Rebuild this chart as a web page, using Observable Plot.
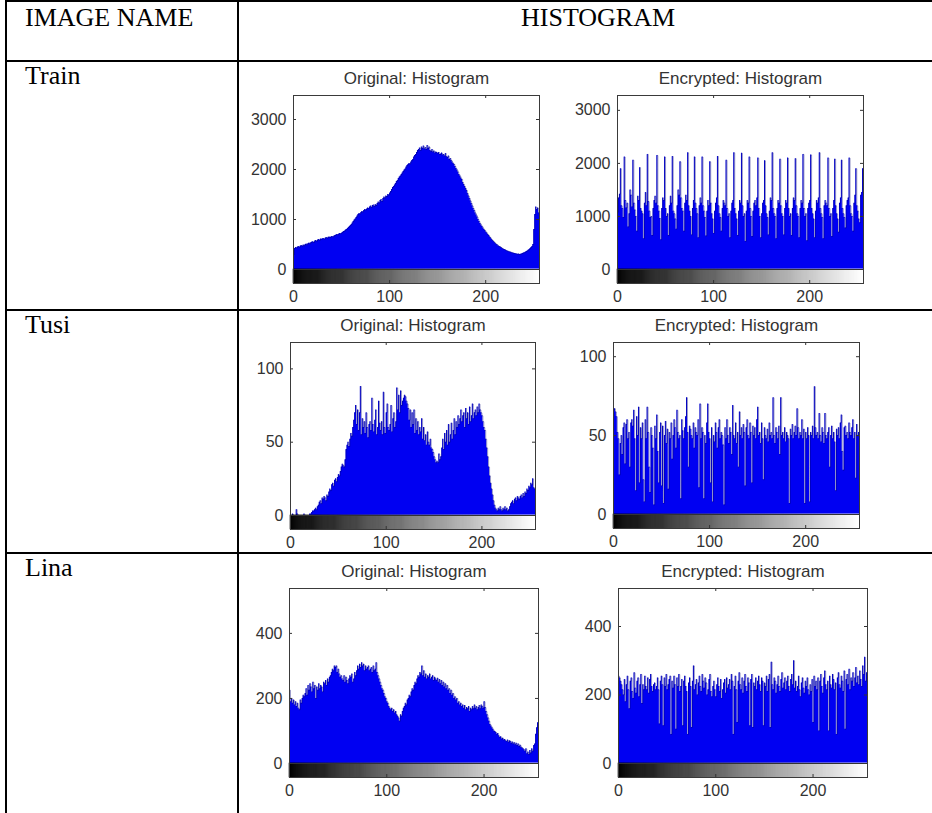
<!DOCTYPE html>
<html><head><meta charset="utf-8">
<script src="https://cdn.jsdelivr.net/npm/d3@7"></script>
<script src="https://cdn.jsdelivr.net/npm/@observablehq/plot@0.6"></script>
<style>
html,body{margin:0;padding:0;background:#fff;}
#page{position:relative;width:932px;height:813px;overflow:hidden;background:#fff;}
.ln{position:absolute;background:#000;}
.cell{position:absolute;font-family:"Liberation Serif","Times New Roman",serif;font-size:26px;color:#000;white-space:nowrap;line-height:1;}
</style></head><body><div id="page"></div>
<script>
// ---------- data ----------
const headers = ["IMAGE NAME", "HISTOGRAM"];
const imageNames = ["Train", "Tusi", "Lina"];
const panelTitles = ["Original: Histogram", "Encrypted: Histogram"];
const grayLevels = d3.range(256);
const xTicks = [0, 100, 200];
const yTicksTrain = [0, 1000, 2000, 3000];
const yTicksTusi = [0, 50, 100];
const yTicksLina = [0, 200, 400];

const trainOriginal = [
300,420,440,430,450,460,445,470,480,465,490,475,500,510,495,520,530,515,540,550,
555,540,570,580,565,590,600,585,610,605,615,620,605,630,640,625,645,650,640,655,
660,650,670,680,690,700,695,710,720,715,730,745,760,770,790,800,820,840,860,880,
900,930,960,990,1010,1040,1070,1100,1120,1110,1140,1160,1150,1180,1200,1190,1210,1230,1220,1250,
1270,1240,1280,1290,1260,1300,1280,1320,1350,1330,1380,1400,1360,1420,1450,1430,1470,1460,1500,1490,
1530,1560,1600,1640,1660,1690,1720,1760,1780,1820,1850,1870,1900,1930,1960,1990,2010,2050,2080,2100,
2120,2110,2150,2180,2200,2250,2280,2300,2340,2380,2400,2430,2380,2450,2420,2470,2410,2440,2400,2480,
2420,2450,2380,2360,2400,2350,2370,2330,2350,2340,2320,2340,2300,2310,2330,2290,2300,2270,2320,2260,
2240,2270,2200,2220,2180,2150,2120,2100,2060,2020,1990,1950,1900,1870,1830,1800,1740,1700,1660,1620,
1580,1520,1470,1420,1370,1320,1270,1220,1180,1130,1090,1050,1000,960,920,890,860,830,800,780,
750,730,700,680,650,630,600,580,560,540,520,500,490,470,460,450,440,420,410,400,
395,380,370,365,355,350,345,335,330,325,320,315,310,305,310,300,305,310,320,330,
335,345,360,370,385,400,420,440,460,500,800,1100,1250,1200,1230,1130];

const trainEncrypted = [
1080,1350,1420,1900,1200,1150,980,2120,1300,1160,1250,800,1050,1500,1400,1180,
2060,1250,1120,1000,720,1380,1300,1920,1150,1100,1050,580,1250,1450,1200,2170,
1280,1100,980,1000,640,1150,1300,1380,1250,2150,1200,1100,960,560,1150,1350,
1300,2120,1150,1000,1050,640,1200,1380,1250,2130,1100,1050,950,760,1200,1500,
1400,2030,1350,1150,1100,720,1250,1400,1300,2200,1200,1100,1000,650,1150,1300,
2120,1250,1150,1050,600,1200,1350,1250,2120,1200,1100,980,630,1100,1300,1200,
2030,1250,1050,950,680,1100,1250,1350,2130,1200,1050,980,720,1150,1300,1250,
1200,2060,1150,1000,1050,600,1100,1250,1300,2200,1150,1050,950,640,1100,1300,
1250,2190,1200,1000,1050,530,1100,1300,1250,2120,1150,1000,620,1100,1250,1300,
1200,1350,2100,1150,1000,600,1050,1250,1300,2050,1200,1050,980,650,1100,1350,
1300,2200,1150,1050,1000,580,1150,1300,1250,2080,1200,1050,1000,650,1150,1300,
1250,2100,1150,1000,1050,640,1150,1350,1300,2090,1200,1050,1000,600,1150,1300,
1250,2170,1150,1000,1050,540,1150,1250,1300,2160,1150,1050,950,600,1100,1300,
1250,1350,2200,1150,1050,980,580,1200,1300,1250,1200,2100,1150,1000,1050,620,
1150,1300,2080,1200,1050,950,700,1250,1350,2060,1150,1050,980,780,1200,1300,
1350,2100,1200,1050,1000,720,1250,1400,1900,1200,1100,950,880,1400,1450,1900];

const tusiOriginal = [
0,0,1,0,0,0,4,1,0,0,0,0,0,0,1,0,
0,0,0,0,1,1,2,3,3,4,5,4,6,7,9,10,
8,12,11,13,12,10,14,13,16,18,17,21,22,20,24,25,
23,26,28,27,30,33,35,34,33,38,45,48,50,47,52,56,
54,60,65,70,75,62,72,58,70,88,55,66,60,64,56,70,
60,53,62,64,58,80,62,57,65,72,55,60,78,63,58,64,
55,84,60,56,70,76,60,58,62,75,57,66,70,60,64,87,
72,82,70,85,75,78,80,82,81,78,76,73,65,72,60,70,
62,72,56,66,58,64,55,60,57,66,52,60,51,55,48,57,
50,48,52,46,45,43,40,38,36,37,36,42,38,40,46,52,
45,56,50,58,48,62,50,55,63,52,58,66,55,64,60,68,
62,66,72,64,68,70,60,73,66,70,62,74,64,68,76,66,
70,72,68,74,70,76,72,70,68,64,60,58,52,46,40,33,
27,22,18,14,10,7,5,4,3,5,4,6,4,3,5,4,
6,4,5,3,4,6,8,9,10,8,11,12,10,13,12,11,
13,14,12,15,13,16,15,18,17,20,19,22,21,25,19,18];

const tusiEncrypted = [
66,67,65,62,52,48,25,45,50,38,55,58,32,57,60,48,
52,30,58,60,56,66,48,15,62,50,68,20,55,48,58,22,
8,60,48,68,52,30,14,55,50,42,6,56,48,63,40,20,
52,58,18,56,7,50,59,45,54,16,52,48,58,35,50,60,
55,42,66,52,48,50,10,60,53,48,55,62,74,52,30,56,
54,50,48,58,42,55,52,50,60,17,70,48,55,52,10,50,
45,58,70,52,48,20,55,8,50,46,58,52,42,55,60,48,
52,50,44,6,55,48,60,50,45,55,52,38,69,50,48,58,
45,52,30,65,50,55,48,57,52,18,55,60,50,48,58,52,
20,56,50,55,48,60,68,50,52,45,58,48,22,55,50,48,
54,46,58,50,52,48,74,50,45,55,52,48,56,38,74,50,
52,48,55,46,52,50,48,7,54,50,57,48,52,56,50,67,
55,48,52,50,60,48,54,7,52,48,55,50,8,52,50,56,
48,81,55,50,52,48,64,50,46,55,52,45,64,50,48,52,
55,30,50,56,48,52,46,15,54,50,55,48,58,63,40,28,
55,56,50,52,48,58,52,50,55,60,48,52,23,57,50,52];

const linaOriginal = [
225,190,200,185,195,180,190,175,185,170,165,195,185,200,210,205,
215,230,210,240,225,245,235,220,250,230,240,200,235,225,245,230,
240,235,220,250,245,255,240,260,250,265,270,280,290,285,300,295,
300,280,290,275,265,270,260,255,270,250,265,255,245,260,270,265,
275,250,260,280,270,285,300,290,305,295,310,300,305,285,300,290,
295,300,285,290,295,280,300,285,290,310,280,270,260,250,240,230,
225,215,205,200,190,185,175,170,165,170,160,165,155,160,150,145,
140,130,150,145,160,170,175,185,180,195,200,210,205,220,230,225,
240,250,245,260,270,265,280,275,300,270,285,265,275,260,270,265,
275,260,265,270,255,265,260,255,262,250,258,245,255,240,250,235,
245,230,240,225,230,215,225,210,215,200,205,195,200,185,190,180,
185,175,180,170,178,165,172,168,175,160,170,165,175,168,180,170,
175,165,172,178,168,180,175,170,190,172,160,150,140,130,120,115,
110,105,100,98,95,90,92,85,80,82,75,78,72,74,70,68,
72,65,70,68,62,66,60,64,58,62,55,60,52,56,50,48,
45,42,38,45,30,35,28,40,32,45,38,55,60,90,110,125];

const linaEncrypted = [
255,250,240,230,215,200,245,180,230,255,215,160,240,250,210,190,
265,220,205,240,250,195,230,260,175,230,215,255,225,215,250,205,
245,260,225,210,230,235,215,225,250,215,115,240,255,230,110,250,
225,260,215,230,245,255,85,240,220,255,230,100,250,225,260,210,
225,245,110,240,255,225,210,85,235,250,225,105,240,285,215,230,
245,200,235,255,225,210,260,240,220,250,235,200,215,245,260,210,
195,225,240,215,195,230,250,225,210,245,190,215,235,245,205,250,
220,230,245,215,260,240,85,225,255,215,120,240,265,230,215,250,
205,240,260,225,210,250,235,110,245,260,105,235,225,250,215,240,
255,230,210,250,240,110,235,225,255,210,245,260,105,296,230,215,
250,240,205,230,255,225,210,245,265,220,235,250,215,240,255,225,
210,245,260,230,300,220,240,210,225,255,215,195,235,250,220,205,
240,225,250,215,200,230,210,245,120,255,225,240,215,250,95,240,
260,225,205,250,270,230,215,240,95,255,230,220,260,245,215,235,
85,250,265,230,220,255,240,210,270,100,245,260,230,275,215,250,
240,265,225,250,280,235,255,230,270,245,225,285,260,310,240,265];

// y-axis upper limits (axes ylim)
const yMaxTrain = [3480, 3280];
const yMaxTusi = [118, 109];
const yMaxLina = [538, 511];

// ---------- layout (pixel geometry of the page) ----------
const page = document.getElementById("page");
function line(x, y, w, h) {
  const d = document.createElement("div");
  d.className = "ln";
  Object.assign(d.style, {left: x + "px", top: y + "px", width: w + "px", height: h + "px"});
  page.appendChild(d);
}
function cell(text, x, baseline, anchor) {
  const d = document.createElement("div");
  d.className = "cell";
  d.textContent = text;
  page.appendChild(d);
  d.style.top = (baseline - 22) + "px";
  if (anchor === "middle") d.style.left = (x - d.offsetWidth / 2) + "px";
  else d.style.left = x + "px";
}
// table rules
line(5, 0, 927, 2);
line(5, 0, 2, 813);
line(237, 0, 2, 813);
line(5, 60, 927, 2);
line(5, 309, 927, 2);
line(5, 552, 927, 2);

cell(headers[0], 25, 27);
cell(headers[1], 598, 27, "middle");
const rowBaselines = [85, 334, 577];
imageNames.forEach((n, i) => cell(n, 25, rowBaselines[i]));

const panels = [
  {data: trainOriginal, title: panelTitles[0], yTicks: yTicksTrain, yMax: yMaxTrain[0], left: 293, right: 539, top: 95, zero: 269},
  {data: trainEncrypted, title: panelTitles[1], yTicks: yTicksTrain, yMax: yMaxTrain[1], left: 617, right: 863, top: 95, zero: 269},
  {data: tusiOriginal, title: panelTitles[0], yTicks: yTicksTusi, yMax: yMaxTusi[0], left: 290, right: 535, top: 342, zero: 515},
  {data: tusiEncrypted, title: panelTitles[1], yTicks: yTicksTusi, yMax: yMaxTusi[1], left: 613, right: 859, top: 342, zero: 514},
  {data: linaOriginal, title: panelTitles[0], yTicks: yTicksLina, yMax: yMaxLina[0], left: 289, right: 538, top: 588, zero: 763},
  {data: linaEncrypted, title: panelTitles[1], yTicks: yTicksLina, yMax: yMaxLina[1], left: 618, right: 867, top: 588, zero: 763}
];

const FONT = '"Liberation Sans", Arial, Helvetica, sans-serif';
function drawPanel(p) {
  const mL = 56, mR = 10, mT = 34, mB = 30, cb = 14;
  const w = p.right - p.left;
  const hPlot = p.zero + cb - p.top;
  const k = (p.zero - p.top) / p.yMax;
  const lo = -cb / k;
  const rows = grayLevels.map(i => ({i, v: p.data[i]}));
  const stepRows = rows.concat([{i: 256, v: p.data[255]}]);
  const tLenY = 3 / k, tLenX = 3 * 256 / w;
  const svg = Plot.plot({
    width: w + mL + mR, height: hPlot + mT + mB,
    marginLeft: mL, marginRight: mR, marginTop: mT, marginBottom: mB,
    x: {domain: [0, 256], axis: null},
    y: {domain: [lo, p.yMax], axis: null},
    color: {type: "identity"},
    style: {fontFamily: FONT, fontSize: "16px", color: "#333", background: "transparent", overflow: "visible"},
    marks: [
      Plot.areaY(stepRows, {x: "i", y: "v", curve: "step-after", fill: "#0000f2"}),
      Plot.lineY(stepRows, {x: "i", y: "v", curve: "step-after", stroke: "#00007a", strokeWidth: 0.5, strokeOpacity: 0.8}),
      Plot.rect(grayLevels, {x1: d => d, x2: d => d + 1, y1: lo, y2: 0,
        fill: d => `rgb(${d},${d},${d})`, stroke: d => `rgb(${d},${d},${d})`, strokeWidth: 0.6}),
      Plot.ruleY([0], {stroke: "#333", strokeWidth: 1}),
      Plot.ruleY(p.yTicks.filter(t => t > 0), {x1: 0, x2: tLenX, stroke: "#333"}),
      Plot.ruleY(p.yTicks.filter(t => t > 0), {x1: 256 - tLenX, x2: 256, stroke: "#333"}),
      Plot.ruleX(xTicks, {y1: p.yMax, y2: p.yMax - tLenY, stroke: "#333"}),
      Plot.ruleX(xTicks, {y1: lo, y2: lo + tLenY, stroke: "#333"}),
      Plot.frame({stroke: "#3a3a3a", strokeWidth: 1}),
      Plot.axisY(p.yTicks, {anchor: "left", tickSize: 0, tickPadding: 7, label: null, fontSize: 16, tickFormat: d => String(d)}),
      Plot.axisX(xTicks, {anchor: "bottom", tickSize: 0, tickPadding: 7, label: null, fontSize: 16, tickFormat: d => String(d)}),
      Plot.text([p.title], {frameAnchor: "top", lineAnchor: "bottom", dy: -12, fontSize: 17, fill: "#333"})
    ]
  });
  Object.assign(svg.style, {position: "absolute", left: (p.left - mL) + "px", top: (p.top - mT) + "px"});
  page.appendChild(svg);
}
panels.forEach(drawPanel);
</script>
</body></html>
